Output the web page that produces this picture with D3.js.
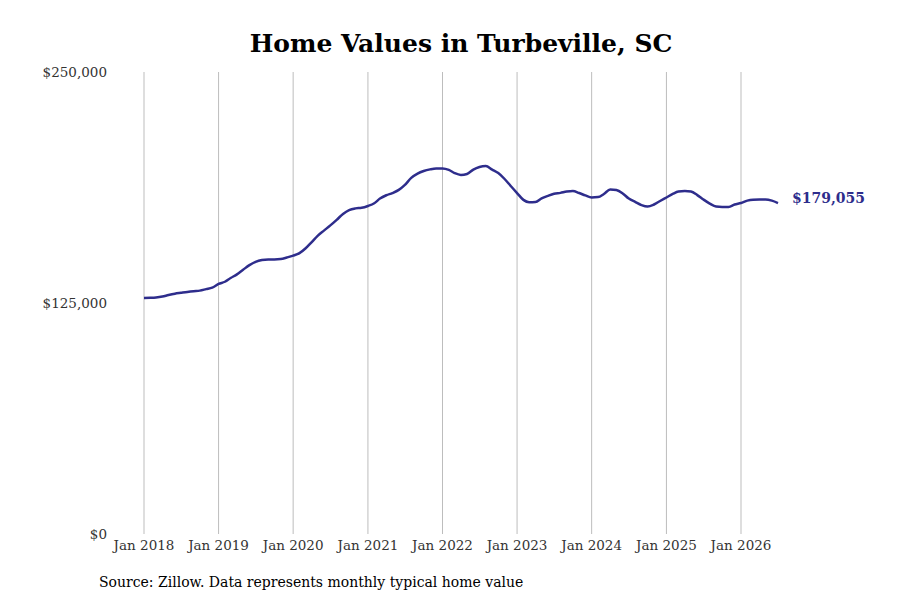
<!DOCTYPE html>
<html>
<head>
<meta charset="utf-8">
<script src="https://cdn.jsdelivr.net/npm/d3@7"></script>
<style>
  body { margin: 0; background: #fff; }
  text { font-family: "DejaVu Serif", serif; }
</style>
</head>
<body>
<svg id="chart" width="900" height="600"></svg>
<script>
// monthly typical home value (thousands), Jan 2018 .. Jul 2026
const startYear = 2018;
const values = [
  127.7, 127.8, 128.0, 128.5, 129.3, 130.0, 130.5, 131.0, 131.4, 131.7, 132.5, 133.3,
  135.3, 136.5, 138.5, 140.5, 143.0, 145.5, 147.3, 148.3, 148.6, 148.6, 148.8, 149.6,
  150.6, 152.0, 154.5, 158.0, 161.5, 164.3, 167.0, 170.0, 173.2, 175.3, 176.2, 176.5,
  177.5, 179.0, 181.5, 183.3, 184.5, 186.2, 188.9, 192.7, 195.0, 196.4, 197.3, 197.8,
  197.8, 197.0, 195.3, 194.3, 194.8, 197.2, 198.6, 199.1, 197.2, 195.3, 192.1, 188.3,
  184.5, 180.8, 179.5, 179.6, 181.6, 183.0, 184.1, 184.6, 185.3, 185.6, 184.5, 183.2,
  182.1, 182.3, 184.0, 186.4, 186.1, 184.3, 181.5, 179.7, 178.0, 177.2, 178.3, 180.2,
  182.1, 184.0, 185.3, 185.6, 185.3, 183.4, 181.0, 178.8, 177.2, 177.0, 177.0, 178.3,
  179.1, 180.4, 180.9, 181.0, 181.0, 180.4, 179.1
];
const lastLabel = "$179,055";
const yearTicks = [2018, 2019, 2020, 2021, 2022, 2023, 2024, 2025, 2026];
const yTicks = [0, 125000, 250000];

const svg = d3.select("#chart");
const data = values.map((v, i) => ({ date: new Date(startYear, i, 1), value: v * 1000 }));

const x = d3.scaleTime()
  .domain([new Date(2018, 0, 1), new Date(2026, 0, 1)])
  .range([144, 741]);
const y = d3.scaleLinear().domain([0, 250000]).range([534, 72]);

// vertical grid
svg.append("g").selectAll("line")
  .data(yearTicks)
  .join("line")
  .attr("x1", d => x(new Date(d, 0, 1)))
  .attr("x2", d => x(new Date(d, 0, 1)))
  .attr("y1", 72).attr("y2", 534)
  .attr("stroke", "#bdbdbd").attr("stroke-width", 1);

// x labels
svg.append("g").selectAll("text")
  .data(yearTicks)
  .join("text")
  .attr("x", d => x(new Date(d, 0, 1)))
  .attr("y", 550)
  .attr("text-anchor", "middle")
  .attr("font-size", 13.5)
  .attr("fill", "#333")
  .text(d => "Jan " + d);

// y labels
const fmt = d3.format("$,");
svg.append("g").selectAll("text")
  .data(yTicks)
  .join("text")
  .attr("x", 107)
  .attr("y", d => y(d) + 5)
  .attr("text-anchor", "end")
  .attr("font-size", 13.5)
  .attr("fill", "#333")
  .text(d => fmt(d));

// line
const line = d3.line()
  .x(d => x(d.date))
  .y(d => y(d.value))
  .curve(d3.curveMonotoneX);

svg.append("path")
  .datum(data)
  .attr("fill", "none")
  .attr("stroke", "#2e2d8c")
  .attr("stroke-width", 2.5)
  .attr("d", line);

const last = data[data.length - 1];
svg.append("text")
  .attr("x", x(last.date) + 14)
  .attr("y", y(last.value) - 0)
  .attr("font-size", 14)
  .attr("font-weight", "bold")
  .attr("fill", "#2e2d8c")
  .text(lastLabel);

svg.append("text")
  .attr("x", 461).attr("y", 52)
  .attr("text-anchor", "middle")
  .attr("font-size", 25)
  .attr("font-weight", "bold")
  .text("Home Values in Turbeville, SC");

svg.append("text")
  .attr("x", 99).attr("y", 587)
  .attr("font-size", 14)
  .text("Source: Zillow. Data represents monthly typical home value");
</script>
</body>
</html>
